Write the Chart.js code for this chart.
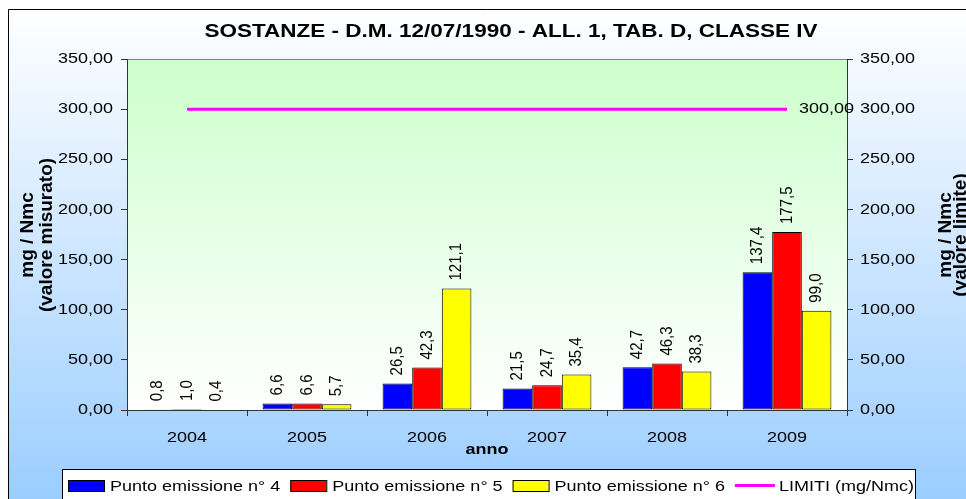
<!DOCTYPE html>
<html>
<head>
<meta charset="utf-8">
<script src="https://cdn.jsdelivr.net/npm/chart.js@4.4.0/dist/chart.umd.min.js"></script>
<style>
  html, body { margin: 0; padding: 0; background: #fff; }
  #contenitore { width: 966px; height: 499px; }
</style>
</head>
<body>
<div id="contenitore"><canvas id="grafico"></canvas></div>
<script>
// Dati
const anni = ['2004', '2005', '2006', '2007', '2008', '2009'];
const punto4 = [0.8, 6.6, 26.5, 21.5, 42.7, 137.4];
const punto5 = [1.0, 6.6, 42.3, 24.7, 46.3, 177.5];
const punto6 = [0.4, 5.7, 121.1, 35.4, 38.3, 99.0];
const limiti = [300, 300, 300, 300, 300, 300];
const tickValori = [0, 50, 100, 150, 200, 250, 300, 350];

const titolo = 'SOSTANZE - D.M. 12/07/1990 - ALL. 1, TAB. D, CLASSE IV';
const titoloSx = ['mg / Nmc', '(valore misurato)'];
const titoloDx = ['mg / Nmc', '(valore limite)'];
const titoloX = 'anno';

const FONT = '"Liberation Sans", Arial, Helvetica, sans-serif';
const SX = 1.2; // il testo dell'originale è allargato in orizzontale

function virgola(v, dec) {
    return v.toFixed(dec).replace('.', ',');
}

// scrive un testo allargato in orizzontale (ed eventualmente ruotato)
function scritta(ctx, txt, x, y, font, align, base, rot, sx) {
    ctx.save();
    ctx.translate(x, y);
    ctx.scale(sx || SX, 1);
    if (rot) ctx.rotate(rot);
    ctx.font = font;
    ctx.fillStyle = '#000';
    ctx.textAlign = align;
    ctx.textBaseline = base;
    ctx.fillText(txt, 0, 0);
    ctx.restore();
}

function larghezza(ctx, txt, font) {
    ctx.save();
    ctx.font = font;
    const w = ctx.measureText(txt).width * SX;
    ctx.restore();
    return w;
}

const sfondo = {
    id: 'sfondo',
    beforeDraw(chart) {
        const ctx = chart.ctx, a = chart.chartArea;
        const W = chart.width, H = chart.height;
        ctx.save();
        ctx.fillStyle = '#fff';
        ctx.fillRect(0, 0, W, H);

        // riquadro esterno sfumato bianco -> azzurro
        let g = ctx.createLinearGradient(0, 9, 0, H + 10);
        g.addColorStop(0, '#ffffff');
        g.addColorStop(1, '#99ccff');
        ctx.fillStyle = g;
        ctx.fillRect(8, 9, W, H);
        ctx.strokeStyle = '#000';
        ctx.lineWidth = 1;
        ctx.beginPath();
        ctx.moveTo(8.5, H);
        ctx.lineTo(8.5, 9.5);
        ctx.lineTo(W, 9.5);
        ctx.stroke();

        // area del grafico sfumata verde -> bianco
        g = ctx.createLinearGradient(0, a.top, 0, a.bottom);
        g.addColorStop(0, '#ccffcc');
        g.addColorStop(1, '#ffffff');
        ctx.fillStyle = g;
        ctx.fillRect(a.left, a.top, a.right - a.left, a.bottom - a.top);
        ctx.strokeStyle = '#808080';
        ctx.beginPath();
        ctx.moveTo(a.left, a.top + 0.5);
        ctx.lineTo(a.right, a.top + 0.5);
        ctx.stroke();
        ctx.restore();
    },
    afterDatasetsDraw(chart) {
        const ctx = chart.ctx;
        // etichette valori sopra le barre, verticali
        chart.data.datasets.forEach((ds, i) => {
            const meta = chart.getDatasetMeta(i);
            if (ds.type === 'line') {
                const p = meta.data[meta.data.length - 1];
                scritta(ctx, virgola(ds.data[ds.data.length - 1], 2), p.x + 12, p.y,
                    '15px ' + FONT, 'left', 'middle');
                return;
            }
            meta.data.forEach((bar, j) => {
                scritta(ctx, virgola(ds.data[j], 1), bar.x, bar.y - 8,
                    '15px ' + FONT, 'left', 'middle', -Math.PI / 2, 1.1);
            });
        });
    },
    afterDraw(chart) {
        const ctx = chart.ctx, a = chart.chartArea;
        const sy = chart.scales.y, sy2 = chart.scales.y2, sx = chart.scales.x;
        const f15 = '15px ' + FONT;

        scritta(ctx, titolo, 511, 37, 'bold 18px ' + FONT, 'center', 'alphabetic', 0, 1.25);

        tickValori.forEach(v => {
            scritta(ctx, virgola(v, 2), a.left - 14, sy.getPixelForValue(v), f15, 'right', 'middle');
            scritta(ctx, virgola(v, 2), a.right + 13, sy2.getPixelForValue(v), f15, 'left', 'middle');
        });
        anni.forEach((an, i) => {
            scritta(ctx, an, sx.getPixelForValue(i), 442, f15, 'center', 'alphabetic');
        });
        scritta(ctx, titoloX, (a.left + a.right) / 2, 454, 'bold 15px ' + FONT, 'center', 'alphabetic');

        // titoli degli assi verticali, letti dal basso verso l'alto
        const cy = 235, fT = 'bold 19px ' + FONT, r = -Math.PI / 2;
        scritta(ctx, titoloSx[0], 33, cy, fT, 'center', 'alphabetic', r, 1);
        scritta(ctx, titoloSx[1], 51.5, cy, fT, 'center', 'alphabetic', r, 1);
        scritta(ctx, titoloDx[0], 951, cy, fT, 'center', 'alphabetic', r, 1);
        scritta(ctx, titoloDx[1], 966, cy, fT, 'center', 'alphabetic', r, 1);

        // legenda
        ctx.save();
        ctx.fillStyle = '#fff';
        ctx.fillRect(62, 469, 853, 40);
        ctx.strokeStyle = '#000';
        ctx.lineWidth = 1;
        ctx.strokeRect(62.5, 469.5, 853, 40);
        let x = 68;
        chart.data.datasets.forEach(ds => {
            if (ds.type === 'line') {
                ctx.strokeStyle = ds.borderColor;
                ctx.lineWidth = 3;
                ctx.beginPath();
                ctx.moveTo(x, 485.5);
                ctx.lineTo(x + 40, 485.5);
                ctx.stroke();
                x += 44;
            } else {
                ctx.fillStyle = ds.backgroundColor;
                ctx.fillRect(x, 480, 36, 11);
                ctx.strokeStyle = '#000';
                ctx.lineWidth = 1;
                ctx.strokeRect(x + 0.5, 480.5, 36, 11);
                x += 42;
            }
            scritta(ctx, ds.label, x, 491, f15, 'left', 'alphabetic');
            x += larghezza(ctx, ds.label, f15) + 10;
        });
        ctx.restore();
    }
};

const barra = (label, data, colore) => ({
    type: 'bar',
    label: label,
    data: data,
    backgroundColor: colore,
    borderColor: '#000',
    borderWidth: 1,
    borderSkipped: false,
    categoryPercentage: 0.74,
    barPercentage: 1.0,
    yAxisID: 'y',
    order: 1
});

const asseY = (pos, w) => ({
    type: 'linear',
    position: pos,
    min: 0,
    max: 350,
    ticks: { stepSize: 50, color: 'rgba(0,0,0,0)', font: { size: 15 } },
    grid: { drawOnChartArea: false, drawTicks: true, tickLength: 6, color: '#333' },
    border: { display: true, color: '#333' },
    afterFit(s) { s.width = w; }
});

new Chart(document.getElementById('grafico'), {
    data: {
        labels: anni,
        datasets: [
            barra('Punto emissione n° 4', punto4, '#0000ff'),
            barra('Punto emissione n° 5', punto5, '#ff0000'),
            barra('Punto emissione n° 6', punto6, '#ffff00'),
            {
                type: 'line',
                label: 'LIMITI (mg/Nmc)',
                data: limiti,
                borderColor: '#ff00ff',
                borderWidth: 3,
                pointRadius: 0,
                fill: false,
                yAxisID: 'y2',
                order: 0
            }
        ]
    },
    options: {
        responsive: true,
        maintainAspectRatio: false,
        animation: false,
        layout: { padding: { top: 59, left: 0, right: 0, bottom: 0 } },
        plugins: {
            legend: { display: false },
            title: { display: false },
            tooltip: { enabled: false }
        },
        scales: {
            x: {
                type: 'category',
                offset: true,
                ticks: { color: 'rgba(0,0,0,0)', font: { size: 1 }, maxRotation: 0 },
                grid: { offset: true, drawOnChartArea: false, drawTicks: true, tickLength: 6, color: '#333' },
                border: { display: true, color: '#333' },
                afterFit(s) { s.height = 89; }
            },
            y: asseY('left', 127),
            y2: asseY('right', 119)
        }
    },
    plugins: [sfondo]
});
</script>
</body>
</html>
